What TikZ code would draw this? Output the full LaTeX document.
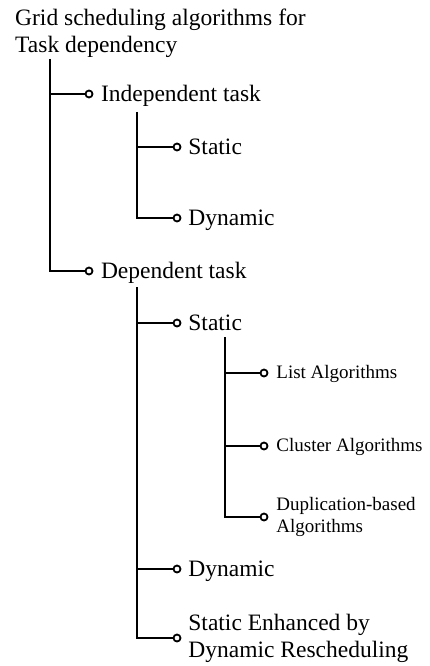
\documentclass[tikz,border=0pt]{standalone}
\usepackage{fontspec}
\setmainfont{Liberation Serif}
\usetikzlibrary{positioning}

\begin{document}
\begin{tikzpicture}[%
    x=1pt, y=-1pt,
    every node/.style={%
      font=\fontsize{23.5}{27}\selectfont,
      inner sep=0pt,
      align=left
    },
    small/.style={font=\fontsize{19}{22}\selectfont},
    stem/.style={line width=2pt},
    knob/.style={circle, draw, line width=1.8pt, minimum size=7pt, fill=white}
  ]
  \useasboundingbox (0,0) rectangle (429,666);

  \node[anchor=base west] (root) at (15,53) {Grid scheduling algorithms for\\Task dependency};

  % Knobs
  \node[knob] (a1) at (89,94) {};
  \node[knob] (a2) at (89,271) {};
  \node[knob] (b1) at (177,147) {};
  \node[knob] (b2) at (177,218) {};
  \node[knob] (c1) at (177,323) {};
  \node[knob] (c2) at (177,569) {};
  \node[knob] (c3) at (177,638) {};
  \node[knob] (d1) at (264,373) {};
  \node[knob] (d2) at (264,446) {};
  \node[knob] (d3) at (264,517) {};

  % Labels
  \node[right=7.4pt of a1, anchor=base west, yshift=-7.3pt] (ta1) {Independent task};
  \node[right=7.4pt of a2, anchor=base west, yshift=-7.3pt] (ta2) {Dependent task};
  \node[right=6.8pt of b1, anchor=base west, yshift=-7.3pt] (tb1) {Static};
  \node[right=6.8pt of b2, anchor=base west, yshift=-7.3pt] (tb2) {Dynamic};
  \node[right=6.8pt of c1, anchor=base west, yshift=-7.3pt] (tc1) {Static};
  \node[right=6.8pt of c2, anchor=base west, yshift=-7.3pt] (tc2) {Dynamic};
  \node[right=6.8pt of c3] (tc3) {Static Enhanced by\\Dynamic Rescheduling};
  \node[small, right=7.8pt of d1, anchor=base west, yshift=-5.6pt] (td1) {List Algorithms};
  \node[small, right=7.8pt of d2, anchor=base west, yshift=-5.6pt] (td2) {Cluster Algorithms};
  \node[small, right=7.8pt of d3] (td3) {Duplication-based\\Algorithms};

  % Vertical bars
  \coordinate (r0) at (50,59);
  \coordinate (i0) at (137,112);
  \coordinate (p0) at (137,287);
  \coordinate (s0) at (225,337);
  \draw[stem] (r0 |- a1) -- (a1);
  \draw[stem] (r0) |- (a2);
  \draw[stem] (i0 |- b1) -- (b1);
  \draw[stem] (i0) |- (b2);
  \draw[stem] (p0 |- c1) -- (c1);
  \draw[stem] (p0 |- c2) -- (c2);
  \draw[stem] (p0) |- (c3);
  \draw[stem] (s0 |- d1) -- (d1);
  \draw[stem] (s0 |- d2) -- (d2);
  \draw[stem] (s0) |- (d3);

\end{tikzpicture}
\end{document}
